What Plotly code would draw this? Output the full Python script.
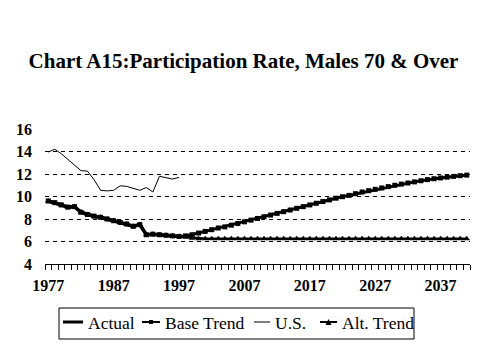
import plotly.graph_objects as go

years = list(range(1977, 2042))

actual_years = list(range(1977, 1998))
actual = [9.6, 9.45, 9.25, 9.05, 9.1, 8.6, 8.4, 8.25, 8.15, 8.0, 7.85,
          7.7, 7.55, 7.35, 7.5, 6.6, 6.65, 6.6, 6.55, 6.5, 6.45]

us_years = list(range(1977, 1998))
us = [13.95, 14.2, 13.8, 13.3, 12.8, 12.3, 12.25, 11.5, 10.55, 10.5, 10.55,
      10.95, 10.9, 10.75, 10.55, 10.8, 10.4, 11.8, 11.7, 11.55, 11.7]

base_trend = [9.6, 9.45, 9.25, 9.05, 9.1, 8.6, 8.4, 8.25, 8.15, 8.0, 7.85,
              7.7, 7.55, 7.35, 7.5, 6.6, 6.65, 6.6, 6.55, 6.5, 6.45,
              6.5, 6.6, 6.75, 6.9, 7.05, 7.2, 7.3, 7.45, 7.6, 7.75,
              7.9, 8.05, 8.2, 8.35, 8.5, 8.65, 8.8, 8.95, 9.1, 9.25,
              9.4, 9.55, 9.7, 9.85, 9.98, 10.1, 10.25, 10.4, 10.52, 10.64,
              10.76, 10.88, 11.0, 11.1, 11.2, 11.3, 11.4, 11.5, 11.58, 11.65,
              11.72, 11.79, 11.85, 11.9]

alt_trend = [9.6, 9.45, 9.25, 9.05, 9.1, 8.6, 8.4, 8.25, 8.15, 8.0, 7.85,
             7.7, 7.55, 7.35, 7.5, 6.6, 6.65, 6.6, 6.55, 6.5, 6.45,
             6.4, 6.3, 6.25, 6.25, 6.25, 6.25, 6.25, 6.25, 6.25, 6.25,
             6.25, 6.25, 6.25, 6.25, 6.25, 6.25, 6.25, 6.25, 6.25, 6.25,
             6.25, 6.25, 6.25, 6.25, 6.25, 6.25, 6.25, 6.25, 6.25, 6.25,
             6.25, 6.25, 6.25, 6.25, 6.25, 6.25, 6.25, 6.25, 6.25, 6.25,
             6.25, 6.25, 6.25, 6.25]

x_tick_years = [1977, 1987, 1997, 2007, 2017, 2027, 2037]
y_ticks = [4, 6, 8, 10, 12, 14, 16]
legend_labels = ["Actual", "Base Trend", "U.S.", "Alt. Trend"]

FONT = "Liberation Serif, Times New Roman, serif"
OFF = 8  # page body margin
W, H = 479 - OFF, 359 - OFF
ML, MT = 45 - OFF, 129 - OFF
PR, PB = 470 - OFF, 264 - OFF
MR, MB = W - PR, H - PB
PW, PH = PR - ML, PB - MT


def px_x(px):
    return (px - OFF - ML) / PW


def px_y(py):
    return (PB - (py - OFF)) / PH


fig = go.Figure()
fig.add_trace(go.Scatter(x=actual_years, y=actual, name="Actual", mode="lines",
                         line=dict(color="black", width=3.5)))
fig.add_trace(go.Scatter(x=years, y=base_trend, name="Base Trend", mode="lines+markers",
                         line=dict(color="black", width=3),
                         marker=dict(symbol="square", size=5, color="black")))
fig.add_trace(go.Scatter(x=us_years, y=us, name="U.S.", mode="lines",
                         line=dict(color="black", width=1)))
fig.add_trace(go.Scatter(x=years, y=alt_trend, name="Alt. Trend", mode="lines+markers",
                         line=dict(color="black", width=2.5),
                         marker=dict(symbol="triangle-up", size=6, color="black")))

# Custom legend (box, symbols, labels)
shapes = []
annotations = []
shapes.append(dict(type="rect", xref="paper", yref="paper",
                   x0=px_x(59), x1=px_x(414), y0=px_y(308), y1=px_y(339),
                   line=dict(color="black", width=1), fillcolor="white", layer="above"))
ly = 322
sym_specs = [(63, 83, 3), (142, 160, 2), (254, 270, 1), (320, 337, 2)]
text_x = [86, 163, 273, 340]
for (x0, x1, w), tx, lab in zip(sym_specs, text_x, legend_labels):
    shapes.append(dict(type="line", xref="paper", yref="paper",
                       x0=px_x(x0), x1=px_x(x1), y0=px_y(ly), y1=px_y(ly),
                       line=dict(color="black", width=w), layer="above"))
    annotations.append(dict(text=lab, xref="paper", yref="paper",
                            x=px_x(tx), y=px_y(ly + 1), xanchor="left", yanchor="middle",
                            showarrow=False, font=dict(size=17.5, family=FONT, color="black")))
# small markers on the trend symbols
shapes.append(dict(type="rect", xref="paper", yref="paper",
                   x0=px_x(149), x1=px_x(153), y0=px_y(320), y1=px_y(324),
                   fillcolor="black", line=dict(width=0), layer="above"))
shapes.append(dict(type="path", xref="paper", yref="paper",
                   path="M {} {} L {} {} L {} {} Z".format(px_x(325.5), px_y(325), px_x(331.5), px_y(325),
                                                         px_x(328.5), px_y(319)),
                   fillcolor="black", line=dict(width=0), layer="above"))

fig.update_layout(
    width=W, height=H,
    margin=dict(l=ML, r=MR, t=MT, b=MB, autoexpand=False),
    paper_bgcolor="white", plot_bgcolor="white",
    font=dict(family=FONT, color="black"),
    title=dict(text="<b>Chart A15:Participation Rate, Males 70 & Over</b>",
               font=dict(size=21, family=FONT, color="black"),
               x=(243.5 - OFF) / W, xref="container", xanchor="center",
               y=1 - (61 - OFF) / H, yref="container", yanchor="middle"),
    showlegend=False,
    shapes=shapes,
    annotations=annotations,
)
fig.update_xaxes(
    range=[1976.5, 2041.5], tickvals=x_tick_years,
    ticktext=[str(v) for v in x_tick_years],
    ticks="", showgrid=False, zeroline=False,
    showline=True, linecolor="black", linewidth=1,
    tickfont=dict(size=16, family=FONT, color="black", weight="bold"),
    ticklabelstandoff=7,
    minor=dict(tick0=1976.5, dtick=1, ticks="outside", ticklen=5,
               tickcolor="black", tickwidth=1, showgrid=False),
)
fig.update_yaxes(
    range=[4, 16], tickvals=y_ticks, ticks="",
    showgrid=True, gridcolor="black", gridwidth=1, griddash="4px,4px",
    zeroline=False, showline=False,
    tickfont=dict(size=16, family=FONT, color="black", weight="bold"),
    ticklabelstandoff=12,
)

fig.write_html("out.html")
